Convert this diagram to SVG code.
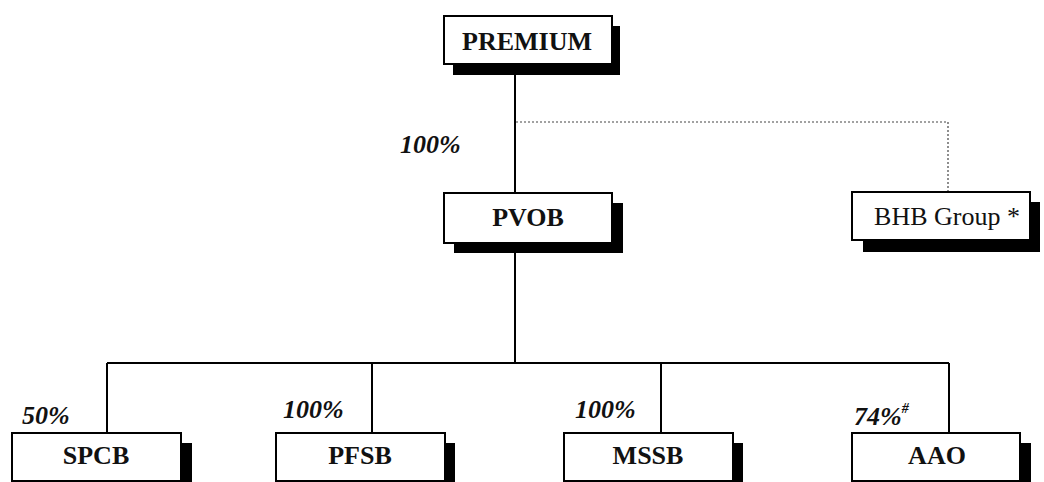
<svg xmlns="http://www.w3.org/2000/svg" width="1044" height="482" viewBox="0 0 1044 482">
<style>
.box{fill:#fff;stroke:#000;stroke-width:2}
.sh{fill:#000}
.lbl{font-family:"Liberation Serif","Times New Roman",serif;font-size:26px;font-weight:bold;text-anchor:middle;fill:#111}
.reg{font-family:"Liberation Serif","Times New Roman",serif;font-size:26px;text-anchor:middle;fill:#111}
.pct{font-family:"Liberation Serif","Times New Roman",serif;font-size:26px;font-weight:bold;font-style:italic;fill:#111}
.ln{stroke:#000;stroke-width:2;fill:none}
.dot{stroke:#444;stroke-width:1.2;stroke-dasharray:2 2;fill:none}
</style>
<rect width="1044" height="482" fill="#fff"/>
<g id="connectors">
<line class="ln" x1="515" y1="64" x2="515" y2="193"/>
<polyline class="dot" points="516,122 948,122 948,192"/>
<line class="ln" x1="515" y1="243" x2="515" y2="363"/>
<line class="ln" x1="107" y1="363" x2="949" y2="363"/>
<line class="ln" x1="107" y1="363" x2="107" y2="433"/>
<line class="ln" x1="372" y1="363" x2="372" y2="433"/>
<line class="ln" x1="661" y1="363" x2="661" y2="433"/>
<line class="ln" x1="949" y1="363" x2="949" y2="433"/>
</g>
<g id="node-premium">
<rect class="sh" x="453" y="26" width="167" height="49"/>
<rect class="box" x="444" y="16" width="168" height="48"/>
<text class="lbl" x="527" y="50">PREMIUM</text>
</g>
<g id="label-100-pvob"><text class="pct" x="400" y="153">100%</text></g>
<g id="node-pvob">
<rect class="sh" x="454" y="203" width="169" height="50"/>
<rect class="box" x="444" y="193" width="168" height="50"/>
<text class="lbl" x="528" y="226">PVOB</text>
</g>
<g id="node-bhb">
<rect class="sh" x="863" y="202" width="177" height="50"/>
<rect class="box" x="852" y="192" width="178" height="48"/>
<text class="reg" x="947" y="225">BHB Group *</text>
</g>
<g id="node-spcb">
<text class="pct" x="22" y="424">50%</text>
<rect class="sh" x="22" y="443" width="170" height="50"/>
<rect class="box" x="12" y="433" width="169" height="48"/>
<text class="lbl" x="96" y="464">SPCB</text>
</g>
<g id="node-pfsb">
<text class="pct" x="283" y="418">100%</text>
<rect class="sh" x="286" y="443" width="169" height="50"/>
<rect class="box" x="276" y="433" width="169" height="48"/>
<text class="lbl" x="360" y="464">PFSB</text>
</g>
<g id="node-mssb">
<text class="pct" x="575" y="418">100%</text>
<rect class="sh" x="574" y="443" width="169" height="50"/>
<rect class="box" x="564" y="433" width="169" height="48"/>
<text class="lbl" x="648" y="464">MSSB</text>
</g>
<g id="node-aao">
<text class="pct" x="854" y="425">74%<tspan font-size="14" dy="-12">#</tspan></text>
<rect class="sh" x="862" y="443" width="169" height="50"/>
<rect class="box" x="852" y="433" width="168" height="48"/>
<text class="lbl" x="937" y="464">AAO</text>
</g>
</svg>
